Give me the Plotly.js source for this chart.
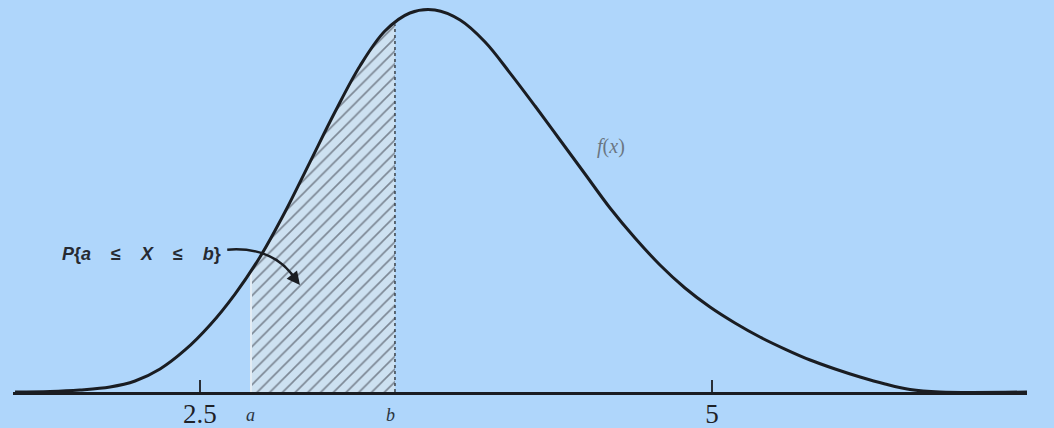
<!DOCTYPE html>
<html>
<head>
<meta charset="utf-8">
<script src="https://cdn.plot.ly/plotly-3.0.1.min.js"></script>
<style>
  html, body { margin: 0; padding: 0; background: #afd6fb; }
  #plot { width: 1054px; height: 428px; }
</style>
</head>
<body>
<div id="plot"></div>
<script>
// density curve f(x)
var curveX = [1.597, 1.768, 1.914, 2.061, 2.183, 2.305, 2.427, 2.549, 2.671, 2.793, 2.915, 3.037, 3.159, 3.281, 3.403, 3.525, 3.647, 3.770, 3.892, 4.014, 4.136, 4.258, 4.380, 4.502, 4.624, 4.746, 4.868, 4.990, 5.112, 5.234, 5.356, 5.479, 5.601, 5.723, 5.845, 5.967, 6.113, 6.538];
var curveY = [0.0000, 0.0005, 0.0021, 0.0052, 0.0115, 0.0241, 0.0440, 0.0702, 0.1026, 0.1414, 0.1885, 0.2408, 0.2932, 0.3414, 0.3780, 0.3969, 0.4000, 0.3895, 0.3665, 0.3340, 0.2995, 0.2639, 0.2283, 0.1927, 0.1613, 0.1330, 0.1089, 0.0890, 0.0723, 0.0576, 0.0450, 0.0335, 0.0241, 0.0157, 0.0084, 0.0026, 0.0000, 0.0000];

// interval limits and the curve height there
var a = 2.749, fa = 0.128;
var b = 3.452, fb = 0.385;

// axis ticks
var tickVals = [2.5, 5];
var tickText = ["2.5", "5"];

var inside = curveX.map(function (x) { return x > a && x < b; });
var shadeX = [a].concat(curveX.filter(function (x, i) { return inside[i]; }), [b]);
var shadeY = [fa].concat(curveY.filter(function (y, i) { return inside[i]; }), [fb]);

var shade = {
  x: shadeX,
  y: shadeY,
  type: "scatter",
  mode: "lines",
  line: { shape: "spline", width: 0 },
  fill: "tozeroy",
  fillcolor: "rgba(0,0,0,0)",
  fillpattern: { shape: "/", fgcolor: "#7c8794", bgcolor: "#cde1f1", size: 9, solidity: 0.18 },
  hoverinfo: "skip"
};

var edgeA = {
  x: [a, a],
  y: [0, fa],
  type: "scatter",
  mode: "lines",
  line: { color: "#e3ecf4", width: 2 },
  hoverinfo: "skip"
};

var edgeB = {
  x: [b, b],
  y: [0, fb],
  type: "scatter",
  mode: "lines",
  line: { color: "#3a4048", width: 1.5, dash: "dot" },
  hoverinfo: "skip"
};

var curve = {
  x: curveX,
  y: curveY,
  type: "scatter",
  mode: "lines",
  line: { shape: "spline", smoothing: 1, color: "#1a1d22", width: 3 },
  hoverinfo: "skip"
};

var layout = {
  width: 1054,
  height: 428,
  margin: { l: 13, r: 27, t: 0, b: 36 },
  paper_bgcolor: "#afd6fb",
  plot_bgcolor: "#afd6fb",
  showlegend: false,
  xaxis: {
    range: [1.587, 6.538],
    showgrid: false,
    zeroline: false,
    showline: true,
    linecolor: "#1a1d22",
    linewidth: 2.5,
    ticks: "inside",
    ticklen: 12,
    tickwidth: 1.5,
    tickcolor: "#2a2f36",
    tickvals: tickVals,
    ticktext: tickText,
    ticklabelstandoff: -4,
    tickfont: { family: "Liberation Serif", size: 27, color: "#1e2228" },
    fixedrange: true
  },
  yaxis: {
    range: [0, 0.4105],
    visible: false,
    fixedrange: true
  },
  shapes: [
    {
      type: "path",
      xref: "x", yref: "y",
      path: "M 2.633,0.149 Q 2.87,0.153 2.975,0.115",
      line: { color: "#1a1d22", width: 2.5 }
    }
  ],
  annotations: [
    {
      x: 2.613, y: 0.145, xref: "x", yref: "y",
      xanchor: "right", yanchor: "middle",
      text: "<b><i>P</i>{<i>a</i>    ≤    <i>X</i>    ≤    <i>b</i>}</b>",
      showarrow: false,
      font: { family: "Liberation Sans", size: 18, color: "#262a31" }
    },
    {
      x: 2.988, y: 0.112, xref: "x", yref: "y",
      ax: -7, ay: -9, text: "", showarrow: true,
      arrowhead: 2, arrowsize: 1.2, arrowwidth: 2.2, arrowcolor: "#1a1d22"
    },
    {
      x: 4.507, y: 0.2576, xref: "x", yref: "y",
      text: "<i>f</i>(<i>x</i>)", showarrow: false,
      font: { family: "Liberation Serif", size: 20, color: "#6b7682" }
    },
    {
      x: a, y: 0, xref: "x", yref: "paper",
      yanchor: "top", yshift: -11,
      text: "<i>a</i>", showarrow: false,
      font: { family: "Liberation Serif", size: 18, color: "#2a3440" }
    },
    {
      x: b - 0.02, y: 0, xref: "x", yref: "paper",
      yanchor: "top", yshift: -11,
      text: "<i>b</i>", showarrow: false,
      font: { family: "Liberation Serif", size: 18, color: "#2a3440" }
    }
  ]
};

Plotly.newPlot("plot", [shade, edgeA, edgeB, curve], layout, { displayModeBar: false, staticPlot: true });
</script>
</body>
</html>
